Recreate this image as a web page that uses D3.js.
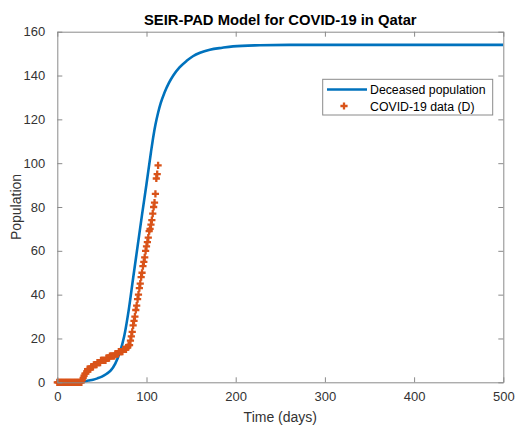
<!DOCTYPE html>
<html>
<head>
<meta charset="utf-8">
<script src="https://cdn.jsdelivr.net/npm/d3@7"></script>
<style>
  html, body { margin: 0; padding: 0; background: #fff; }
  svg { display: block; }
  text { font-family: "Liberation Sans", Arial, Helvetica, sans-serif; }
</style>
</head>
<body>
<svg id="chart" width="516" height="429"></svg>
<script>
// ---- data ----
const titleText = "SEIR-PAD Model for COVID-19 in Qatar";
const xLabel = "Time (days)";
const yLabel = "Population";
const xTicks = [0, 100, 200, 300, 400, 500];
const yTicks = [0, 20, 40, 60, 80, 100, 120, 140, 160];
const legendLabels = ["Deceased population", "COVID-19 data (D)"];

// model curve (deceased population)
const modelDays   = [0, 25, 30, 35, 40, 45, 50, 55, 60, 65, 70, 75, 80, 85, 90, 95, 100, 105, 108, 110, 113, 116, 120, 125, 130, 137, 145, 152, 160, 171, 185, 197, 227, 260, 500];
const modelValues = [0, 0, 0.4, 0.8, 1.2, 1.8, 2.6, 3.8, 5.4, 8.5, 13.5, 21, 32.8, 47.5, 62, 76.5, 90.5, 105, 113, 117.5, 123, 127.5, 132, 136.5, 140, 143.7, 146.7, 148.8, 150.4, 151.8, 152.7, 153.3, 153.8, 154, 154];

// observed cumulative deaths, one value per day starting at day 0
const dataValues = [
  0,0,0,0,0,0,0,0,0,0, 0,0,0,0,0,0,0,0,0,0, 0,0,0,0,0,0,0,0,
  1,2,3,4,4,5,6,6,6,6,7,7,7,8,8,8,8,9,9,9,9,10,10,10,10,10,10,
  11,11,11,11,12,12,12,12,12,12,13,13,13,13,14,14,14,14,14,
  15,15,15,15,16,16,17,17,19,21,23,26,28,30,33,35,38,40,43,45,48,50,
  53,55,57,60,62,64,66,69,70,72,74,77,80,82,86,93,95,99
];

// ---- layout ----
const svg = d3.select("#chart");
const L = 57.3, R = 503.3, T = 31.7, B = 382.3;
const x = d3.scaleLinear().domain([0, 500]).range([L, R]);
const y = d3.scaleLinear().domain([0, 160]).range([B, T]);

const axisColor = "#8a8a8a";
const textColor = "#333";
const blue = "#0072BD";
const orange = "#D95319";

// plot background
svg.append("rect").attr("x", L).attr("y", T).attr("width", R - L).attr("height", B - T)
  .attr("fill", "#fff");

// clip
svg.append("clipPath").attr("id", "clip").append("rect")
  .attr("x", L - 6).attr("y", T).attr("width", R - L + 6).attr("height", B - T + 6);

// model line
const line = d3.line().x((d, i) => x(modelDays[i])).y(d => y(d)).curve(d3.curveMonotoneX);
svg.append("path").datum(modelValues)
  .attr("d", line).attr("fill", "none").attr("stroke", blue).attr("stroke-width", 2.6)
  .attr("clip-path", "url(#clip)");

// data markers
const plus = "M-3.6,0H3.6M0,-3.6V3.6";
svg.append("g").selectAll("path").data(dataValues).join("path")
  .attr("d", plus)
  .attr("transform", (d, i) => `translate(${x(i)},${y(d)})`)
  .attr("fill", "none").attr("stroke", orange).attr("stroke-width", 2.3);

// axes (box with ticks on all sides, inward)
const tickLen = 5;
const gB = svg.append("g").attr("transform", `translate(0,${B})`)
  .call(d3.axisBottom(x).tickValues(xTicks).tickSizeInner(-tickLen).tickSizeOuter(0).tickPadding(9));
const gT = svg.append("g").attr("transform", `translate(0,${T})`)
  .call(d3.axisTop(x).tickValues(xTicks).tickSizeInner(-tickLen).tickSizeOuter(0).tickFormat(""));
const gL = svg.append("g").attr("transform", `translate(${L},0)`)
  .call(d3.axisLeft(y).tickValues(yTicks).tickSizeInner(-tickLen).tickSizeOuter(0).tickPadding(12));
const gR = svg.append("g").attr("transform", `translate(${R},0)`)
  .call(d3.axisRight(y).tickValues(yTicks).tickSizeInner(-tickLen).tickSizeOuter(0).tickFormat(""));

[gB, gT, gL, gR].forEach(g => {
  g.select(".domain").attr("stroke", axisColor).attr("stroke-width", 1);
  g.selectAll(".tick line").attr("stroke", axisColor);
  g.selectAll(".tick text").attr("fill", textColor).attr("font-size", 13)
    .attr("font-family", "'Liberation Sans', Arial, sans-serif");
});

// title
svg.append("text").attr("x", (L + R) / 2).attr("y", 25).attr("text-anchor", "middle")
  .attr("font-size", 14.8).attr("font-weight", "bold").attr("fill", "#000").text(titleText);

// axis labels
svg.append("text").attr("x", (L + R) / 2).attr("y", 422).attr("text-anchor", "middle")
  .attr("font-size", 14).attr("fill", textColor).text(xLabel);
svg.append("text").attr("transform", `translate(21,${(T + B) / 2}) rotate(-90)`)
  .attr("text-anchor", "middle").attr("font-size", 14).attr("fill", textColor).text(yLabel);

// legend
const lg = svg.append("g");
lg.append("rect").attr("x", 322.7).attr("y", 79.3).attr("width", 170).attr("height", 35.7)
  .attr("fill", "#fff").attr("stroke", axisColor).attr("stroke-width", 1);
lg.append("line").attr("x1", 327).attr("x2", 367).attr("y1", 89.5).attr("y2", 89.5)
  .attr("stroke", blue).attr("stroke-width", 2.6);
lg.append("path").attr("d", plus).attr("transform", "translate(344,106)")
  .attr("fill", "none").attr("stroke", orange).attr("stroke-width", 2.3);
lg.append("text").attr("x", 370).attr("y", 93.8).attr("font-size", 12.3).attr("fill", "#000").text(legendLabels[0]);
lg.append("text").attr("x", 370).attr("y", 110.5).attr("font-size", 12.3).attr("fill", "#000").text(legendLabels[1]);
</script>
</body>
</html>
